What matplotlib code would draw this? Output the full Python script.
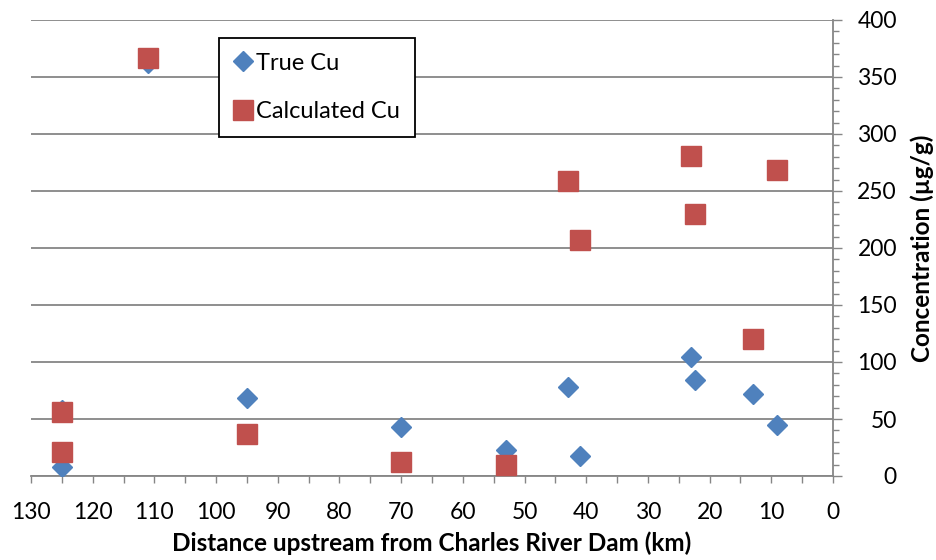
import numpy as np
import matplotlib
matplotlib.use('Agg')
import matplotlib.pyplot as plt
from matplotlib.ticker import MultipleLocator

# distance upstream (km) and concentrations (ug/g)
true_km = [125, 125, 111, 95, 70, 53, 43, 41, 23, 22.4, 13, 9]
true_cu = [58, 8, 362, 68, 43, 23, 78, 17.5, 104, 84, 72, 44.5]

calc_km = [125, 125, 111, 95, 70, 53, 43, 41, 23, 22.4, 13, 9]
calc_cu = [56, 21, 367, 37, 12, 10, 259, 207, 281, 230, 120, 268]

blue = '#4F81BD'
red = '#C0504D'
grey = '#868686'

plt.rcParams['font.family'] = ['Lato', 'DejaVu Sans']

fig = plt.figure(figsize=(9.37, 5.6), dpi=100)
ax = fig.add_axes([31/937, 1-476/560, (833-31)/937, (476-20)/560])

ax.plot(true_km, true_cu, linestyle='none', marker='D', ms=10.2,
        color=blue, mec=blue, label='True Cu', zorder=3)
ax.plot(calc_km, calc_cu, linestyle='none', marker='s', ms=14.4,
        color=red, mec=red, label='Calculated Cu', zorder=4)

ax.set_xlim(130, 0)
ax.set_ylim(0, 400)

ax.xaxis.set_major_locator(MultipleLocator(10))
ax.xaxis.set_minor_locator(MultipleLocator(5))
ax.yaxis.set_major_locator(MultipleLocator(50))
ax.yaxis.set_minor_locator(MultipleLocator(10))

ax.yaxis.tick_right()
ax.yaxis.set_label_position('right')

for s in ['top', 'left']:
    ax.spines[s].set_visible(False)
for s in ['bottom', 'right']:
    ax.spines[s].set_color(grey)
    ax.spines[s].set_linewidth(1.3)

ax.grid(axis='y', which='major', color=grey, linewidth=1.3)
ax.set_axisbelow(True)

ax.tick_params(axis='x', which='both', direction='out', length=5, width=1,
               color=grey, labelsize=16.5, pad=14)
ax.tick_params(axis='y', which='major', direction='out', length=6.5, width=1,
               color=grey, labelsize=16.5, pad=39.5)
ax.tick_params(axis='y', which='minor', direction='out', length=4.3, width=1,
               color=grey)
for lab in ax.get_yticklabels():
    lab.set_horizontalalignment('right')

ax.set_xlabel('Distance upstream from Charles River Dam (km)', fontsize=17.5,
              fontweight='bold', labelpad=6)
ax.set_ylabel('Concentration (µg/g)', fontsize=17.5, fontweight='bold',
              labelpad=10)

leg = ax.legend(loc='upper left', bbox_to_anchor=(219/937, 1-38/560),
                bbox_transform=fig.transFigure, borderaxespad=0,
                fontsize=17, fancybox=False, framealpha=1, edgecolor='black',
                handlelength=0.8, handletextpad=0.15, labelspacing=1.17,
                borderpad=0.62, numpoints=1)
leg.get_frame().set_linewidth(1.3)

fig.savefig('out.png', dpi=100)
